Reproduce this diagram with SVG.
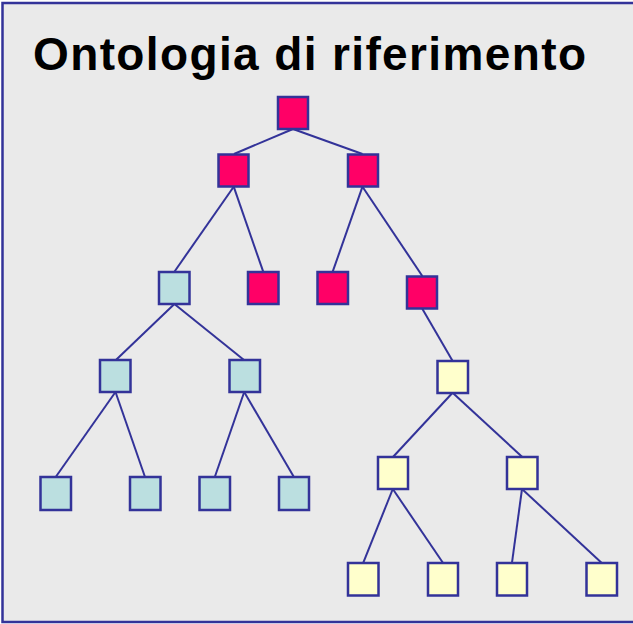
<svg xmlns="http://www.w3.org/2000/svg" width="633" height="624" viewBox="0 0 633 624">
<style>
.n{stroke:#333399;stroke-width:2.5}
.r{fill:#FF0066}
.c{fill:#BBDFE0}
.y{fill:#FFFFCC}
.e line{stroke:#333399;stroke-width:2}
</style>
<rect x="2.5" y="3" width="640" height="619" fill="#EAEAEA" stroke="#333399" stroke-width="2.5"/>
<text x="33" y="70" font-family="Liberation Sans, Arial, sans-serif" font-weight="bold" font-size="46" textLength="553" lengthAdjust="spacing" fill="#000">Ontologia di riferimento</text>
<g class="e" id="connectors">
<line x1="293" y1="129" x2="234" y2="154"/>
<line x1="293" y1="129" x2="362.5" y2="154"/>
<line x1="233.7" y1="186.7" x2="174.4" y2="271.7"/>
<line x1="233.7" y1="186.7" x2="263.2" y2="271.7"/>
<line x1="362.5" y1="186.7" x2="332.7" y2="271.7"/>
<line x1="362.5" y1="186.7" x2="422.3" y2="276"/>
<line x1="422.3" y1="308.7" x2="452.5" y2="360.7"/>
<line x1="174.4" y1="304" x2="115.9" y2="360"/>
<line x1="174.4" y1="304" x2="244" y2="360"/>
<line x1="115.5" y1="392" x2="55.7" y2="477"/>
<line x1="115.5" y1="392" x2="145" y2="477"/>
<line x1="244.2" y1="392" x2="214.8" y2="477"/>
<line x1="244.2" y1="392" x2="293.9" y2="477"/>
<line x1="452.6" y1="392.7" x2="393.2" y2="456.7"/>
<line x1="452.6" y1="392.7" x2="522" y2="456.7"/>
<line x1="392.8" y1="489" x2="363.3" y2="562.7"/>
<line x1="392.8" y1="489" x2="442.9" y2="562.7"/>
<line x1="522" y1="489" x2="512" y2="562.7"/>
<line x1="522" y1="489" x2="601.5" y2="562.7"/>
</g>
<g id="n1"><rect class="n r" x="278" y="97" width="30" height="32"/></g>
<g id="n2"><rect class="n r" x="218.5" y="154.5" width="30" height="32"/></g>
<g id="n3"><rect class="n r" x="348" y="154.5" width="30" height="32"/></g>
<g id="n4"><rect class="n c" x="159" y="272" width="30.5" height="32"/></g>
<g id="n5"><rect class="n r" x="248" y="272" width="30.5" height="32"/></g>
<g id="n6"><rect class="n r" x="317.5" y="272" width="30.5" height="32"/></g>
<g id="n7"><rect class="n r" x="407" y="276.5" width="30" height="32"/></g>
<g id="n8"><rect class="n c" x="100" y="360" width="30.5" height="32"/></g>
<g id="n9"><rect class="n c" x="229.5" y="360" width="30.5" height="32"/></g>
<g id="n10"><rect class="n y" x="437.5" y="361" width="30.5" height="32"/></g>
<g id="n11"><rect class="n c" x="40.5" y="477" width="30.5" height="33"/></g>
<g id="n12"><rect class="n c" x="130" y="477" width="30.5" height="33"/></g>
<g id="n13"><rect class="n c" x="199.5" y="477" width="30.5" height="33"/></g>
<g id="n14"><rect class="n c" x="279" y="477" width="30" height="33"/></g>
<g id="n15"><rect class="n y" x="378" y="457" width="30" height="32"/></g>
<g id="n16"><rect class="n y" x="507" y="457" width="30.5" height="32"/></g>
<g id="n17"><rect class="n y" x="348" y="563" width="30.5" height="32.5"/></g>
<g id="n18"><rect class="n y" x="428" y="563" width="30" height="32.5"/></g>
<g id="n19"><rect class="n y" x="497" y="563" width="30" height="32.5"/></g>
<g id="n20"><rect class="n y" x="586.5" y="563" width="30.5" height="32.5"/></g>
</svg>
